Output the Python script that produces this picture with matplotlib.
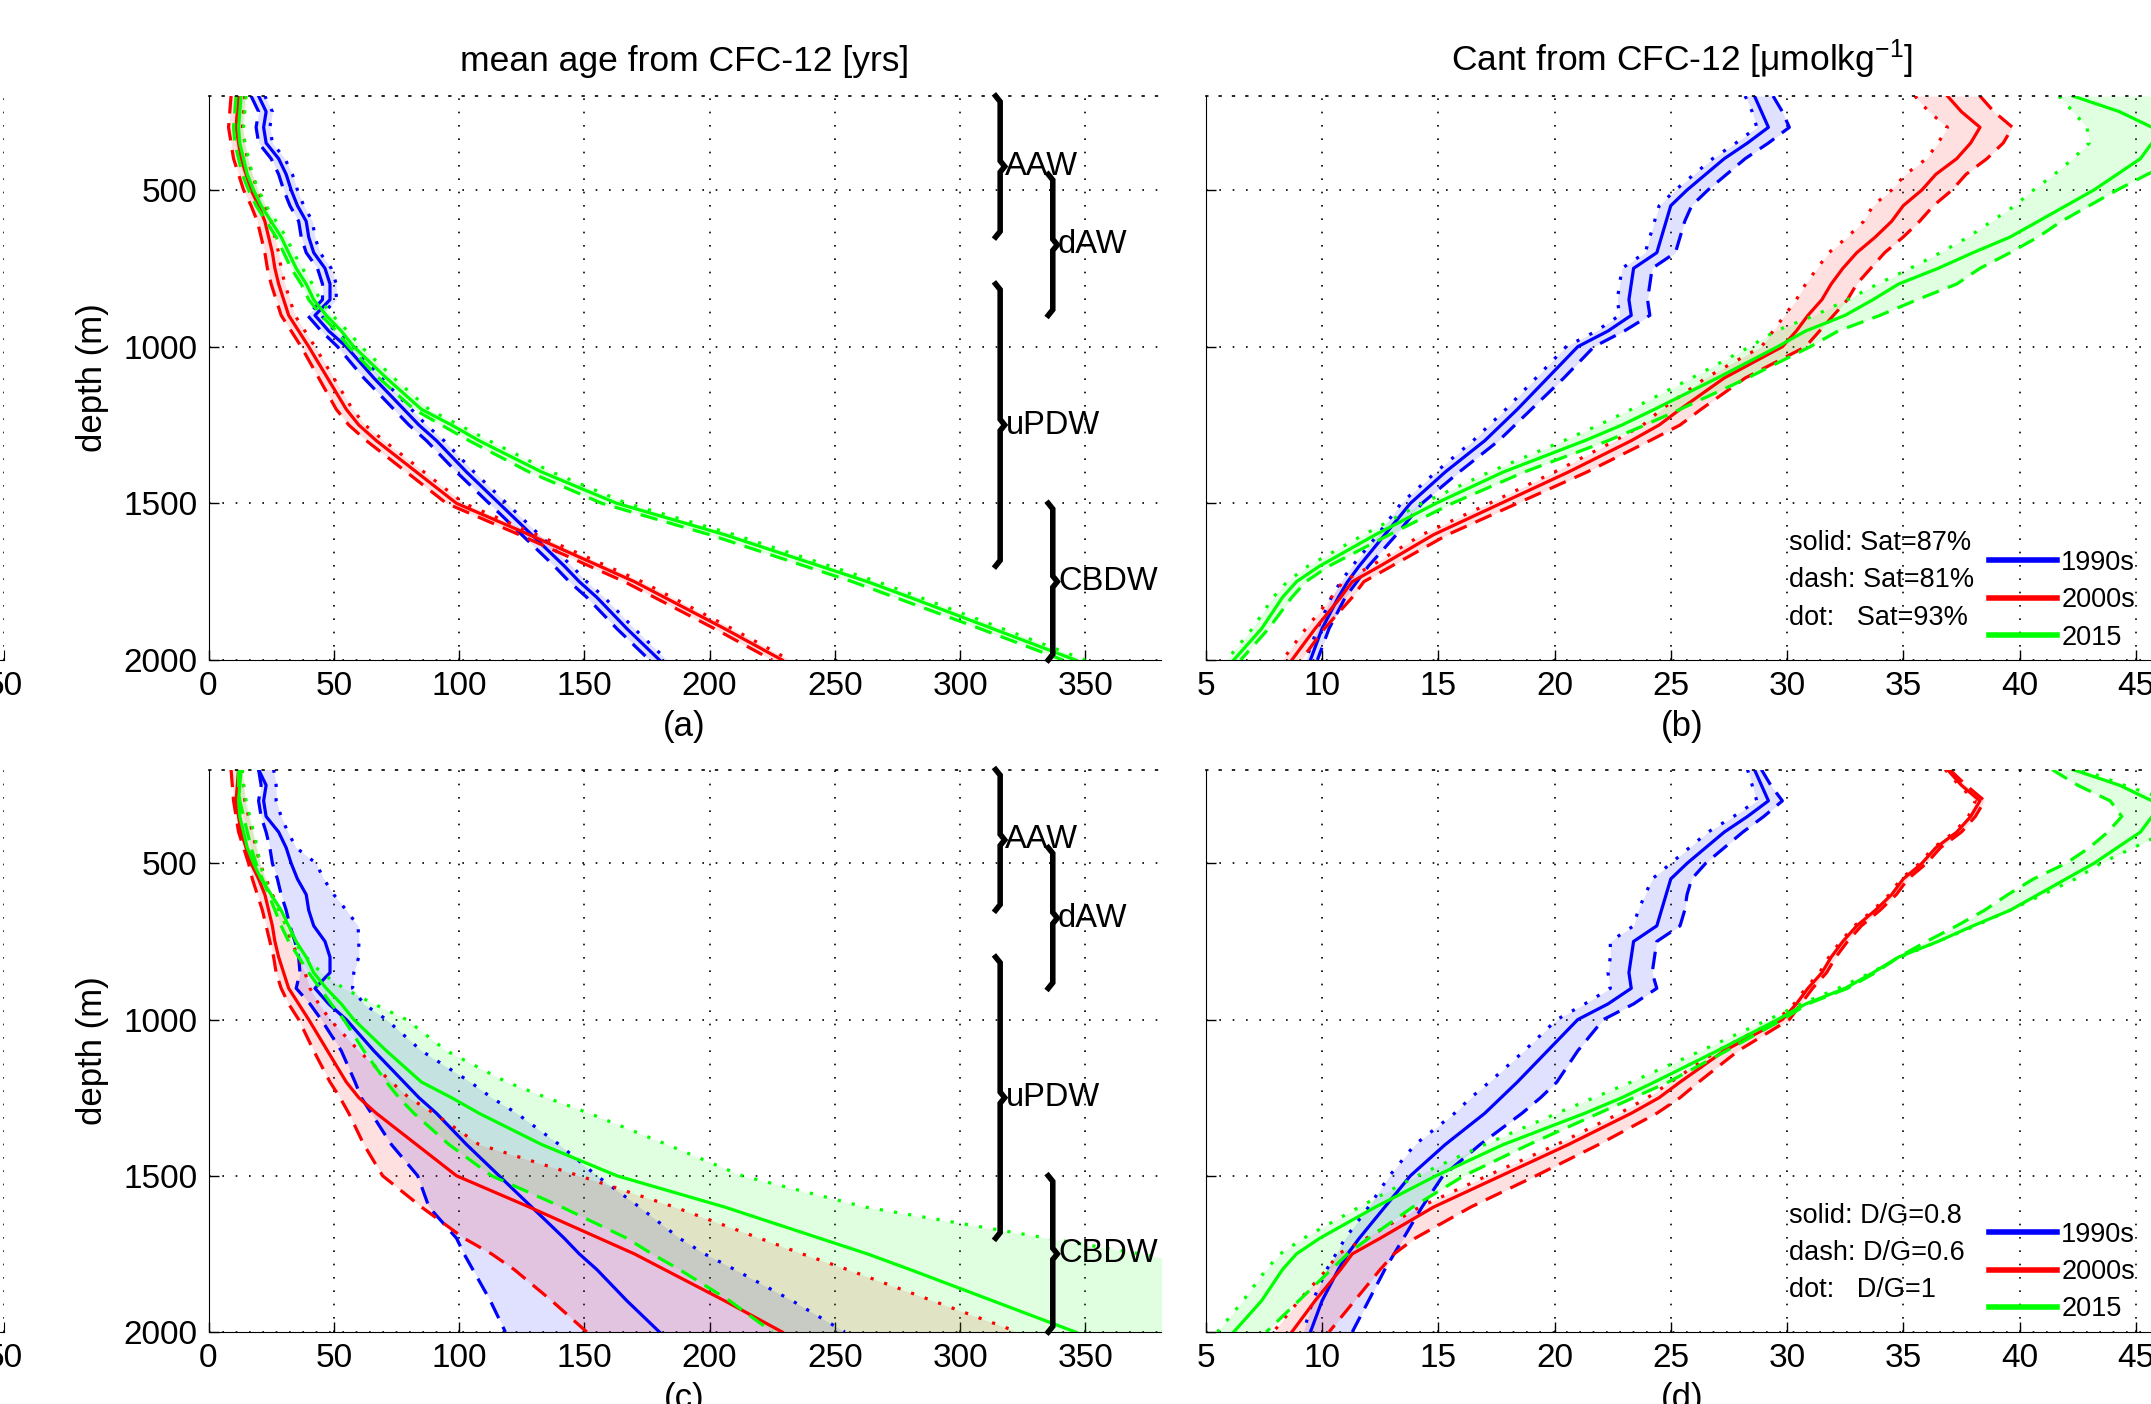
import numpy as np
import matplotlib
matplotlib.use("Agg")
import matplotlib.pyplot as plt

plt.rcParams['font.family'] = ['Liberation Sans', 'DejaVu Sans']
plt.rcParams['mathtext.fontset'] = 'custom'
plt.rcParams['mathtext.rm'] = 'Liberation Sans'
plt.rcParams['mathtext.it'] = 'Liberation Sans:italic'

# depth grid (m)
depth = [200, 250, 300, 350, 400, 450, 500, 550, 600, 650, 700, 750, 800, 850, 900, 950,
         1000, 1100, 1200, 1250, 1300, 1400, 1500, 1600, 1700, 1750, 1800, 1900, 2000]

# mean age (yrs), solid = Sat 87% / D/G 0.8
age_1990s = [20, 23, 22, 23, 28, 31, 33, 35.5, 39, 40, 42, 46.5, 48.5, 48.5, 42.5, 48, 55, 66, 78, 84, 91, 103, 116, 129, 142, 148, 155, 167, 180]
age_2000s = [12, 11.5, 11, 12, 13, 15, 17, 20, 22.5, 24, 25.5, 26.5, 28, 30, 32, 36, 40, 47.5, 55, 60, 67, 83, 99, 128, 156, 170, 182, 206, 229]
age_2015 = [13, 12.5, 12, 12.5, 14, 15.5, 18, 21, 25, 29, 32, 35, 39, 42, 47, 53, 58, 71, 85, 97, 108, 133, 163, 206, 244, 263, 280, 313, 346]

# saturation 81% (dash) and 93% (dot)
age_1990s_s81 = [17, 20, 19, 20, 25, 28, 30, 32.5, 36, 37, 39, 43.5, 45.5, 45.5, 39.5, 45, 51.5, 62, 74, 80, 87, 99, 112, 125, 138, 144, 151, 163, 176]
age_1990s_s93 = [22.5, 25.5, 24.5, 25.5, 30.5, 33.5, 35.5, 38, 41.5, 42.5, 44.5, 49, 51, 51, 45, 50.5, 58, 69, 81, 87, 94, 106, 119, 132, 145, 151, 158, 170, 183]
age_2000s_s81 = [9, 8.5, 8, 9, 10, 12, 14, 17, 19.5, 21, 22.5, 23.5, 25, 27, 29, 33, 37, 44, 51, 56, 63, 79, 95, 124, 152, 166, 178, 202, 225]
age_2000s_s93 = [14.5, 14, 13.5, 14.5, 15.5, 17.5, 19.5, 22.5, 25, 26.5, 28, 29, 30.5, 32.5, 34.5, 38.5, 42.5, 50, 57.5, 62.5, 70, 86, 102, 131, 159, 173, 185, 209, 232]
age_2015_s81 = [11, 10.5, 10, 10.5, 12, 13.5, 16, 19, 23, 27, 30, 33, 37, 40, 45, 51, 56, 68, 82, 93, 104, 128, 157, 200, 238, 257, 274, 308, 341]
age_2015_s93 = [15, 14.5, 14, 14.5, 16, 17.5, 20, 23, 27, 31, 34, 37.5, 41.5, 44.5, 49.5, 55.5, 61, 74, 88, 100, 112, 137, 167, 210, 248, 267, 284, 317, 350]

# D/G 0.6 (dash) and 1 (dot)
age_1990s_dg06 = [20, 21, 20, 21, 23, 24.5, 25.5, 27.5, 29, 31, 32.5, 34.5, 36, 36.5, 35, 40.5, 45, 53, 58.5, 61, 65, 73, 83.5, 88, 99, 102, 105.5, 112.5, 118.5]
age_1990s_dg1 = [26, 27, 27, 29, 31.7, 35, 43, 46, 50, 55, 59.7, 60, 60, 58, 57.5, 62, 71, 85, 104.5, 113, 123, 140, 155, 172, 188, 198, 210, 233, 254]
age_2000s_dg06 = [9, 9.5, 10, 11, 12, 14, 16, 17.5, 19.5, 21.5, 23, 24.5, 26, 27, 29, 32, 36, 42, 48.5, 52.5, 56, 62, 69.5, 85, 102, 113, 122, 137, 151]
age_2000s_dg1 = [13.5, 14, 14.5, 16, 17.5, 19, 20.5, 23, 25.5, 28.5, 31, 33, 36, 38.5, 40.5, 44, 48.5, 60, 73, 80, 90, 108, 148, 186, 220, 237, 255, 289, 323]
age_2015_dg06 = [12, 12, 12.5, 14, 15.5, 17, 19, 21.5, 24, 26.5, 29, 32, 36, 40, 44.5, 49, 54, 62, 71, 76, 82, 96, 113, 141, 167, 177, 188, 208, 225]
age_2015_dg1 = [13.5, 14, 15, 16.5, 18, 19.5, 20.5, 22.5, 25, 28, 31, 34, 39, 45, 54, 66, 79, 95, 119, 135, 152, 183, 213, 262, 335, 372, 405, 450, 490]

# Cant (umol/kg)
cant_1990s = [28.6, 28.9, 29.2, 28.3, 27.3, 26.5, 25.7, 25.0, 24.8, 24.6, 24.4, 23.4, 23.3, 23.2, 23.3, 22.3, 21.0, 19.7, 18.4, 17.7, 17.0, 15.3, 13.8, 12.7, 11.6, 11.1, 10.7, 10.0, 9.5]
cant_2000s = [36.9, 37.5, 38.3, 37.9, 37.3, 36.4, 35.8, 35.0, 34.5, 33.8, 33.0, 32.4, 31.9, 31.5, 30.9, 30.4, 29.8, 27.3, 25.4, 24.5, 23.3, 20.6, 17.7, 14.8, 12.5, 11.3, 10.8, 9.7, 8.7]
cant_2015 = [42.3, 44.3, 45.7, 45.7, 45.2, 44.2, 43.2, 42.0, 40.8, 39.6, 38.0, 36.5, 34.8, 33.7, 32.5, 30.8, 29.6, 27.0, 24.3, 22.9, 21.3, 17.8, 14.9, 12.3, 9.9, 8.9, 8.3, 7.4, 6.2]

cant_1990s_s81 = [29.4, 29.8, 30.1, 29.2, 28.2, 27.4, 26.6, 25.9, 25.6, 25.4, 25.2, 24.2, 24.1, 24.0, 24.1, 23.0, 21.7, 20.4, 19.0, 18.3, 17.6, 15.9, 14.3, 13.2, 12.0, 11.5, 11.0, 10.3, 9.8]
cant_1990s_s93 = [28.2, 28.5, 28.7, 27.8, 26.8, 26.0, 25.2, 24.5, 24.3, 24.1, 23.9, 22.9, 22.8, 22.7, 22.8, 21.8, 20.5, 19.2, 17.9, 17.2, 16.5, 14.9, 13.4, 12.4, 11.3, 10.8, 10.4, 9.8, 9.3]
cant_2000s_s81 = [38.3, 38.9, 39.7, 39.3, 38.6, 37.7, 37.1, 36.3, 35.7, 35.0, 34.2, 33.6, 33.0, 32.6, 32.0, 31.4, 30.8, 28.2, 26.3, 25.4, 24.1, 21.4, 18.4, 15.4, 13.0, 11.8, 11.3, 10.1, 9.1]
cant_2000s_s93 = [35.5, 36.1, 36.9, 36.5, 36.0, 35.1, 34.5, 33.7, 33.3, 32.6, 31.8, 31.3, 30.8, 30.4, 29.9, 29.4, 28.9, 26.5, 24.6, 23.8, 22.6, 20.0, 17.2, 14.3, 12.1, 10.9, 10.4, 9.3, 8.3]
cant_2015_s81 = [46.0, 47.5, 48.5, 48.0, 47.0, 45.5, 44.2, 43.0, 41.8, 40.8, 39.6, 38.3, 37.3, 35.6, 34.0, 32.2, 31.0, 28.3, 25.4, 23.9, 22.3, 18.7, 15.6, 12.9, 10.3, 9.3, 8.7, 7.7, 6.5]
cant_2015_s93 = [41.7, 42.3, 42.9, 43.0, 42.3, 41.5, 40.6, 39.8, 38.8, 37.8, 36.6, 35.3, 33.9, 32.6, 31.2, 29.5, 28.4, 25.9, 23.3, 21.9, 20.4, 17.2, 14.3, 11.8, 9.4, 8.5, 7.9, 7.0, 5.9]

cant_1990s_dg06 = [28.9, 29.3, 29.8, 29.0, 28.1, 27.3, 26.5, 25.9, 25.7, 25.6, 25.4, 24.4, 24.3, 24.2, 24.4, 23.4, 22.1, 21.0, 20.1, 19.4, 18.6, 16.8, 15.2, 14.3, 13.5, 13.1, 12.7, 12.0, 11.3]
cant_1990s_dg1 = [28.3, 28.5, 28.7, 27.7, 26.6, 25.8, 25.0, 24.2, 23.9, 23.6, 23.4, 22.4, 22.4, 22.3, 22.4, 21.3, 20.1, 18.7, 17.2, 16.4, 15.7, 14.0, 12.9, 12.0, 11.0, 10.6, 10.2, 9.6, 9.2]
cant_2000s_dg06 = [37.0, 37.7, 38.5, 38.1, 37.5, 36.6, 36.0, 35.2, 34.7, 34.0, 33.2, 32.6, 32.1, 31.7, 31.1, 30.6, 30.1, 27.9, 26.2, 25.4, 24.4, 21.9, 19.2, 16.4, 14.0, 13.1, 12.5, 11.4, 10.3]
cant_2000s_dg1 = [36.8, 37.4, 38.1, 37.8, 37.2, 36.3, 35.7, 34.9, 34.4, 33.7, 32.9, 32.3, 31.8, 31.4, 30.8, 30.3, 29.6, 27.0, 25.0, 24.0, 22.8, 20.1, 17.1, 14.2, 11.9, 10.7, 10.2, 9.0, 7.9]
cant_2015_dg06 = [41.4, 42.5, 43.9, 44.4, 43.8, 43.0, 42.0, 40.6, 39.5, 38.5, 37.3, 36.0, 34.8, 33.8, 32.6, 30.9, 29.8, 27.4, 24.9, 23.4, 21.9, 18.9, 16.1, 13.9, 12.0, 11.1, 10.4, 9.0, 7.6]
cant_2015_dg1 = [42.7, 44.5, 46.5, 47.0, 46.3, 44.9, 43.5, 42.4, 41.0, 39.6, 38.1, 36.5, 34.9, 33.6, 32.2, 30.6, 29.2, 26.3, 23.3, 21.7, 20.1, 17.0, 14.1, 11.6, 9.2, 8.2, 7.6, 6.6, 5.5]

# water masses: name, bracket x (yrs), top, bottom (m)
wm_names = ['AAW', 'dAW', 'uPDW', 'CBDW']
wm_x = [316, 337, 316, 337]
wm_top = [200, 450, 800, 1500]
wm_bot = [650, 900, 1700, 2000]

years = ['1990s', '2000s', '2015']
colors = ['#0000ff', '#ff0000', '#00ff00']

W, H = 2151, 1404
DOT = (0, (1, 7))
FS = 24


def frac(x0, y0, x1, y1):
    return [x0 / W, 1 - y1 / H, (x1 - x0) / W, (y1 - y0) / H]


def style(ax, xlim, xticks, ylabels=True):
    ax.set_xlim(xlim)
    ax.set_ylim(2000, 200)
    ax.set_xticks(xticks)
    ax.set_yticks([500, 1000, 1500, 2000])
    if not ylabels:
        ax.set_yticklabels([])
    ax.grid(True, ls=DOT, color='k', lw=1.2)
    ax.spines['right'].set_visible(False)
    ax.spines['top'].set_linestyle(DOT)
    ax.spines['top'].set_linewidth(1.2)
    ax.tick_params(direction='in', length=7, width=1, labelsize=FS, pad=8)
    ax.set_axisbelow(True)


def profiles(ax, solids, dashes, dots):
    lines = []
    for s, da, do, c in zip(solids, dashes, dots, colors):
        ax.fill_betweenx(depth, da, do, color=c, alpha=0.12, lw=0)
    for s, da, do, c in zip(solids, dashes, dots, colors):
        ax.plot(da, depth, color=c, lw=2.3, ls=(0, (5.5, 3)))
        ax.plot(do, depth, color=c, lw=2.3, ls=(0, (1, 3.5)))
        l, = ax.plot(s, depth, color=c, lw=2.3)
        lines.append(l)
    return lines


def braces(ax):
    hx, hy = 1.8, 18
    for name, x, t, b in zip(wm_names, wm_x, wm_top, wm_bot):
        m = (t + b) / 2
        ax.plot([x - hx, x, x, x + hx, x, x, x - hx],
                [t, t + hy, m - hy, m, m + hy, b - hy, b],
                color='k', lw=4, clip_on=False, solid_joinstyle='miter')
        ax.text(x + hx + 0.3, m, name, fontsize=23.5, va='center', ha='left')


def legend(ax, lines, notes):
    for i, t in enumerate(notes):
        ax.text(0.612, 0.207 - i * 0.066, t, transform=ax.transAxes, fontsize=19.5,
                va='center', ha='left')
    leg = ax.legend(lines, years, loc='lower left', bbox_to_anchor=(0.805, -0.012),
                    frameon=False, fontsize=19.5, handlelength=2.5, handletextpad=0.15,
                    labelspacing=0.42, borderaxespad=0.2)
    for h in leg.get_lines():
        h.set_linewidth(4)


fig = plt.figure(figsize=(W / 100, H / 100), dpi=100)

rows = [(96, 660), (769.6, 1332)]
panels = []
for top, bot in rows:
    # edge of the neighbouring panel on the left
    g = fig.add_axes(frac(-300, top, 4, bot))
    g.set_xlim(0, 50)
    g.set_ylim(2000, 200)
    g.set_xticks([50])
    g.set_yticks([])
    g.grid(True, axis='x', ls=DOT, color='k', lw=1.2)
    for sp in ['top', 'right', 'left']:
        g.spines[sp].set_visible(False)
    g.tick_params(direction='in', length=7, labelsize=FS, pad=8)

    axl = fig.add_axes(frac(208.5, top, 1160.5, bot))
    axr = fig.add_axes(frac(1205.8, top, 2159, bot))
    style(axl, (0, 380), range(0, 351, 50))
    style(axr, (5, 46), range(5, 46, 5), ylabels=False)
    axl.set_ylabel('depth (m)', fontsize=25, labelpad=10)
    panels.append((axl, axr))

(ax_a, ax_b), (ax_c, ax_d) = panels

profiles(ax_a, [age_1990s, age_2000s, age_2015],
         [age_1990s_s81, age_2000s_s81, age_2015_s81],
         [age_1990s_s93, age_2000s_s93, age_2015_s93])
lb = profiles(ax_b, [cant_1990s, cant_2000s, cant_2015],
              [cant_1990s_s81, cant_2000s_s81, cant_2015_s81],
              [cant_1990s_s93, cant_2000s_s93, cant_2015_s93])
profiles(ax_c, [age_1990s, age_2000s, age_2015],
         [age_1990s_dg06, age_2000s_dg06, age_2015_dg06],
         [age_1990s_dg1, age_2000s_dg1, age_2015_dg1])
ld = profiles(ax_d, [cant_1990s, cant_2000s, cant_2015],
              [cant_1990s_dg06, cant_2000s_dg06, cant_2015_dg06],
              [cant_1990s_dg1, cant_2000s_dg1, cant_2015_dg1])

braces(ax_a)
braces(ax_c)
legend(ax_b, lb, ['solid: Sat=87%', 'dash: Sat=81%', 'dot:   Sat=93%'])
legend(ax_d, ld, ['solid: D/G=0.8', 'dash: D/G=0.6', 'dot:   D/G=1'])

ax_a.set_title('mean age from CFC-12 [yrs]', fontsize=25.5, pad=18)
ax_b.set_title('Cant from CFC-12 [μmolkg$^{-1}$]', fontsize=25.5, pad=18)
for ax, lab in zip([ax_a, ax_b, ax_c, ax_d], ['(a)', '(b)', '(c)', '(d)']):
    ax.set_xlabel(lab, fontsize=25, labelpad=6)

fig.savefig('out.png', dpi=100)
